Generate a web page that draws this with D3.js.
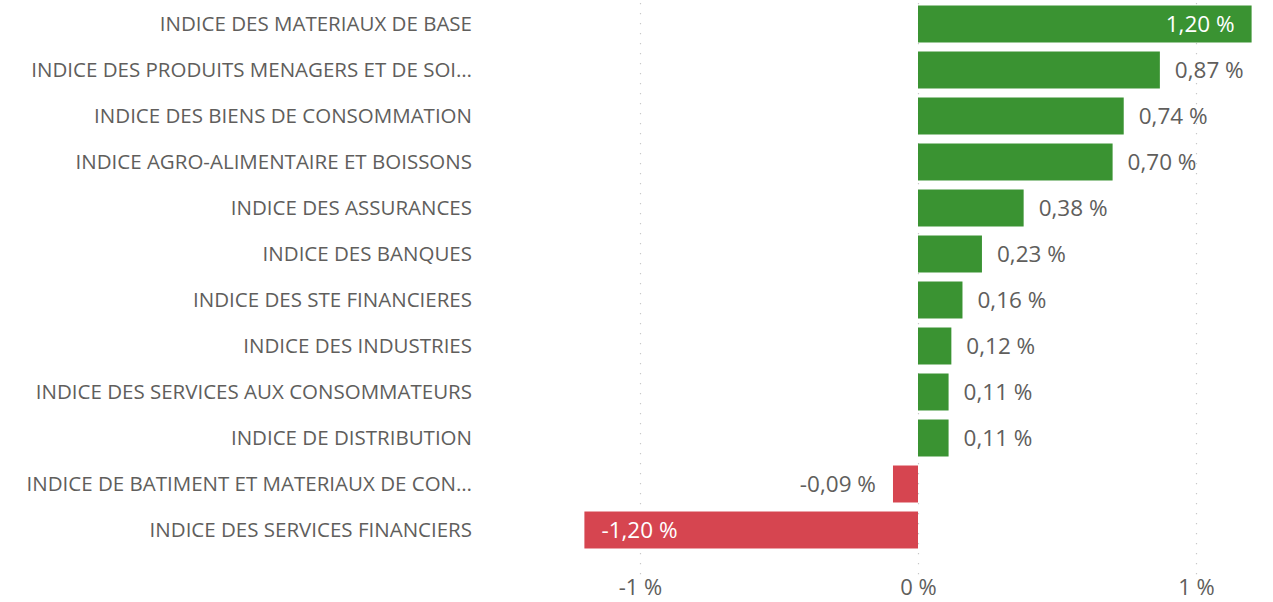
<!DOCTYPE html>
<html>
<head>
  <meta charset="utf-8">
  <style>
    body { margin: 0; background: #fff; }
    text { font-family: "Open Sans", "Noto Sans", sans-serif; }
  </style>
</head>
<body>
<script src="https://cdn.jsdelivr.net/npm/d3@7"></script>
<script>
  var categories = [
    "INDICE DES MATERIAUX DE BASE",
    "INDICE DES PRODUITS MENAGERS ET DE SOI…",
    "INDICE DES BIENS DE CONSOMMATION",
    "INDICE AGRO-ALIMENTAIRE ET BOISSONS",
    "INDICE DES ASSURANCES",
    "INDICE DES BANQUES",
    "INDICE DES STE FINANCIERES",
    "INDICE DES INDUSTRIES",
    "INDICE DES SERVICES AUX CONSOMMATEURS",
    "INDICE DE DISTRIBUTION",
    "INDICE DE BATIMENT ET MATERIAUX DE CON…",
    "INDICE DES SERVICES FINANCIERS"
  ];
  var values = [1.20, 0.87, 0.74, 0.70, 0.38, 0.23, 0.16, 0.12, 0.11, 0.11, -0.09, -1.20];
  var tickValues = [-1, 0, 1];

  var W = 1273, H = 602;
  var svg = d3.select('body').append('svg')
    .attr('width', W)
    .attr('height', H);

  var x = d3.scaleLinear().domain([-1, 1]).range([640, 1196]);
  var y = d3.scaleBand().domain(categories).range([1, 553]).paddingInner(0.196).paddingOuter(0.098);

  var fmt = function(v) { return v.toFixed(2).replace('.', ',') + ' %'; };

  // dotted gridlines
  var grid = svg.append('g');
  tickValues.forEach(function(t) {
    grid.append('line')
      .attr('x1', x(t) + 0.5).attr('x2', x(t) + 0.5)
      .attr('y1', 3).attr('y2', 575)
      .attr('stroke', '#c8c8c8')
      .attr('stroke-width', 1.2)
      .attr('stroke-dasharray', '1.2,8.8');
  });

  // bars
  svg.append('g').selectAll('rect')
    .data(values)
    .enter().append('rect')
    .attr('x', function(d) { return x(Math.min(0, d)); })
    .attr('y', function(d, i) { return y(categories[i]); })
    .attr('width', function(d) { return Math.abs(x(d) - x(0)); })
    .attr('height', y.bandwidth())
    .attr('fill', function(d) { return d >= 0 ? '#3a9332' : '#d64550'; });

  // category labels
  svg.append('g').selectAll('text')
    .data(categories)
    .enter().append('text')
    .attr('x', 472)
    .attr('y', function(d) { return y(d) + y.bandwidth() / 2; })
    .attr('dy', '0.36em')
    .attr('text-anchor', 'end')
    .attr('fill', '#605e5c')
    .style('font-size', '20.5px')
    .text(function(d) { return d; });

  // value labels
  var maxAbs = d3.max(values, function(d) { return Math.abs(d); });
  svg.append('g').selectAll('text')
    .data(values)
    .enter().append('text')
    .attr('y', function(d, i) { return y(categories[i]) + y.bandwidth() / 2; })
    .attr('dy', '0.36em')
    .style('font-size', '22.5px')
    .each(function(d) {
      var inside = Math.abs(d) >= maxAbs * 0.95;
      var t = d3.select(this);
      if (d >= 0) {
        t.attr('x', inside ? x(d) - 17 : x(d) + 15)
          .attr('text-anchor', inside ? 'end' : 'start');
      } else {
        t.attr('x', inside ? x(d) + 17 : x(d) - 17)
          .attr('text-anchor', inside ? 'start' : 'end');
      }
      t.attr('fill', inside ? '#ffffff' : '#605e5c');
    })
    .text(fmt);

  // x axis
  var axis = svg.append('g')
    .attr('transform', 'translate(0,' + 587 + ')')
    .call(d3.axisBottom(x).tickValues(tickValues).tickSize(0).tickPadding(0)
      .tickFormat(function(t) { return t + ' %'; }));
  axis.select('.domain').remove();
  axis.selectAll('text')
    .attr('dy', '0.36em')
    .attr('fill', '#605e5c')
    .style('font-size', '22px')
    .style('font-family', '"Open Sans", "Noto Sans", sans-serif');
</script>
</body>
</html>
